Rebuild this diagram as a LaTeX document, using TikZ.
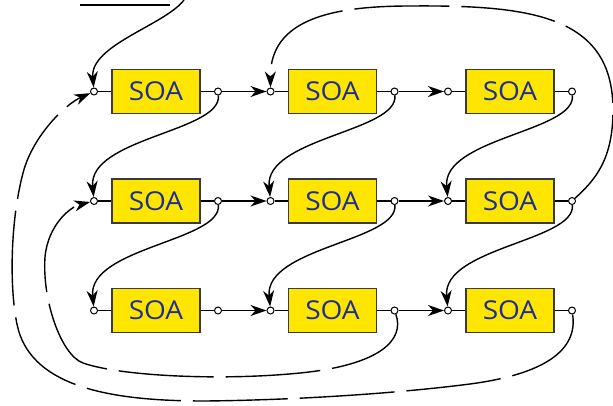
\documentclass[tikz,border=0pt]{standalone}
\usepackage{fontspec}
\newfontfamily\soafont[FakeStretch=1.08]{Open Sans}
\usetikzlibrary{arrows.meta}
\definecolor{soayellow}{HTML}{FFE600}
\definecolor{soablue}{HTML}{1E2E96}
\definecolor{soaedge}{HTML}{3A3A3A}
\begin{document}
\begin{tikzpicture}[x=1pt,y=-1pt,
  soabox/.style={draw=soaedge,fill=soayellow,line width=1.4pt,minimum width=88pt,minimum height=44pt,inner sep=0pt,text=soablue,font=\soafont\fontsize{26}{26}\selectfont},
  port/.style={circle,draw=black,fill=white,line width=1pt,inner sep=0pt,minimum size=7pt},
  conn/.style={line width=1.4pt,black},
  arr/.style={conn,-{Stealth[length=16pt,width=11pt,inset=5pt]}},
  loopline/.style={arr,dash pattern=on 95pt off 12pt}]
\useasboundingbox (0,0) rectangle (613,405);
\foreach \r/\y in {1/91.5,2/201,3/310.5}{
  \foreach \c/\x in {1/156,2/332.5,3/510}{
    \node[soabox] (b\r\c) at (\x,\y) {SOA};
    \node[port] (i\r\c) at (\x-62,\y) {};
    \node[port] (o\r\c) at (\x+62,\y) {};
    \draw[conn] (i\r\c) -- (b\r\c.west);
    \draw[conn] (b\r\c.east) -- (o\r\c);
  }
}
\foreach \r in {1,2,3}{
  \draw[arr] (o\r1) -- (i\r2);
  \draw[arr] (o\r2) -- (i\r3);
}
\foreach \r/\n in {1/2,2/3}{
  \foreach \c in {1,2,3}{
    \draw[arr] (o\r\c) .. controls +(4,40) and +(-6,-63) .. (i\n\c);
  }
}
\coordinate (t1) at (80,5);
\coordinate (t2) at (170,5);
\draw[conn] (t1) -- (t2);
\coordinate (t3) at (184,0);
\draw[arr] (t3) .. controls (165,25) and (90,45) .. (i11);
\draw[loopline] (o23) .. controls (595,180) and (613,160) .. (613,110) .. controls (613,15) and (530,5) .. (410,6) .. controls (330,6) and (270,20) .. (i12);
\draw[loopline] (o33) .. controls (578,350) and (545,374) .. (470,384) .. controls (400,393) and (300,400) .. (205,401) .. controls (120,401) and (40,390) .. (20,335) .. controls (10,307) and (8,230) .. (23,173) .. controls (33,135) and (66,104) .. (i11);
\draw[loopline] (o32) .. controls (405,340) and (380,365) .. (300,373) .. controls (220,381) and (120,376) .. (83,363) .. controls (61,355) and (42,300) .. (45,257) .. controls (48,225) and (70,207) .. (i21);
\end{tikzpicture}
\end{document}
